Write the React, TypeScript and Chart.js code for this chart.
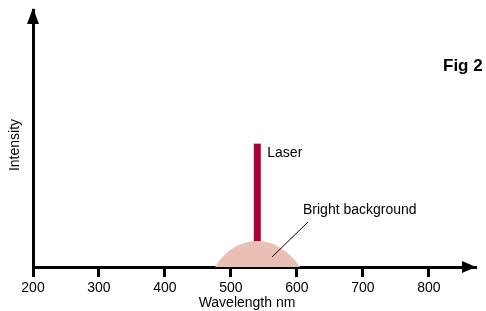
import React, { useEffect, useRef } from "react";
import { Chart, registerables } from "chart.js";

Chart.register(...registerables);

const X_TICKS = [200, 300, 400, 500, 600, 700, 800];
const X_MIN = 200;
const X_MAX = 870;
const Y_MAX = 100;

// Bright background (broad emission dome)
const BG_WAVELENGTHS = [476, 483, 491, 500, 510, 520, 530, 540, 550, 560, 570, 580, 590, 598, 605];
const BG_INTENSITY = [0, 2.6, 4.9, 6.8, 8.3, 9.3, 9.9, 10.1, 9.9, 9.3, 8.2, 6.6, 4.5, 2.3, 0];

// Laser line
const LASER_WAVELENGTH = 540;
const LASER_INTENSITY = 48;

const FONT = "'Liberation Sans', Arial, sans-serif";

const annotations = {
  id: "annotations",
  afterDraw(chart: any) {
    const ctx = chart.ctx;
    const { left, right, top, bottom } = chart.chartArea;
    ctx.save();
    ctx.fillStyle = "#000";
    // y arrow
    ctx.beginPath();
    ctx.moveTo(left, top - 2);
    ctx.lineTo(left - 6, top + 14);
    ctx.lineTo(left + 6, top + 14);
    ctx.closePath();
    ctx.fill();
    // x arrow
    ctx.beginPath();
    ctx.moveTo(right + 1, bottom);
    ctx.lineTo(right - 13, bottom - 6);
    ctx.lineTo(right - 13, bottom + 6);
    ctx.closePath();
    ctx.fill();

    const xs = chart.scales.x;
    const ys = chart.scales.y;

    // labels
    ctx.font = `14px ${FONT}`;
    ctx.textBaseline = "middle";
    ctx.textAlign = "left";
    ctx.fillText("Laser", xs.getPixelForValue(LASER_WAVELENGTH) + 10, ys.getPixelForValue(LASER_INTENSITY) + 10);
    ctx.fillText("Bright background", 303, 210);

    // leader line
    ctx.strokeStyle = "#000";
    ctx.lineWidth = 1;
    ctx.beginPath();
    ctx.moveTo(272, 257);
    ctx.lineTo(308, 222);
    ctx.stroke();

    // axis titles
    ctx.textAlign = "center";
    ctx.fillText("Wavelength nm", 247, 303);
    ctx.save();
    ctx.translate(15, 145);
    ctx.rotate(-Math.PI / 2);
    ctx.fillText("Intensity", 0, 0);
    ctx.restore();

    // Fig 2
    ctx.font = `bold 17px ${FONT}`;
    ctx.textAlign = "left";
    ctx.textBaseline = "alphabetic";
    ctx.fillText("Fig 2", 443, 71);
    ctx.restore();
  },
};

export default function App() {
  const ref = useRef<HTMLCanvasElement | null>(null);
  useEffect(() => {
    if (!ref.current) return;
    const chart = new Chart(ref.current, {
      type: "line",
      data: {
        datasets: [
          {
            label: "Bright background",
            data: BG_WAVELENGTHS.map((x, i) => ({ x, y: BG_INTENSITY[i] })),
            borderWidth: 0,
            borderColor: "rgba(0,0,0,0)",
            backgroundColor: "rgb(235,192,180)",
            fill: "origin",
            pointRadius: 0,
            cubicInterpolationMode: "monotone",
          },
          {
            label: "Laser",
            data: [
              { x: LASER_WAVELENGTH, y: 0 },
              { x: LASER_WAVELENGTH, y: LASER_INTENSITY },
            ],
            borderWidth: 7,
            borderColor: "rgb(174,0,56)",
            borderCapStyle: "butt",
            pointRadius: 0,
            fill: false,
          },
        ],
      },
      options: {
        animation: false,
        responsive: true,
        maintainAspectRatio: false,
        layout: { padding: { top: 10, right: 11, left: 0, bottom: 0 } },
        plugins: { legend: { display: false }, tooltip: { enabled: false } },
        scales: {
          x: {
            type: "linear",
            min: X_MIN,
            max: X_MAX,
            z: 1,
            afterBuildTicks: (s: any) => {
              s.ticks = X_TICKS.map((v) => ({ value: v }));
            },
            afterFit: (s: any) => {
              s.height = 44;
            },
            grid: {
              drawOnChartArea: false,
              drawTicks: true,
              tickLength: 10,
              lineWidth: 3,
              color: "#000",
            },
            border: { display: true, color: "#000", width: 3 },
            ticks: {
              padding: 3,
              color: "#000",
              maxRotation: 0,
              font: { family: FONT, size: 14 },
            },
          },
          y: {
            type: "linear",
            min: 0,
            max: Y_MAX,
            z: 1,
            afterFit: (s: any) => {
              s.width = 33;
            },
            grid: { display: false },
            border: { display: true, color: "#000", width: 3 },
            ticks: { display: false },
          },
        },
      },
      plugins: [annotations],
    } as any);
    return () => chart.destroy();
  }, []);
  return (
    <div style={{ position: "fixed", left: 0, top: 0, width: 486, height: 311, background: "#fff" }}>
      <canvas ref={ref} />
    </div>
  );
}
